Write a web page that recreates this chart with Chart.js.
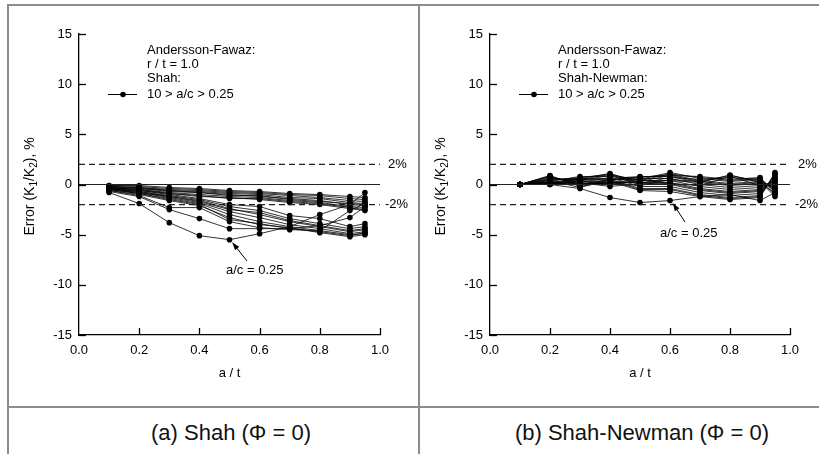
<!DOCTYPE html>
<html>
<head>
<meta charset="utf-8">
<script src="https://cdn.jsdelivr.net/npm/chart.js@4.4.0/dist/chart.umd.min.js"></script>
<style>
  html, body { margin: 0; padding: 0; background: #fff; }
  body { width: 819px; height: 454px; position: relative; overflow: hidden; font-family: "Liberation Sans", Arial, sans-serif; }
  .rule { position: absolute; background: #8c8c8c; }
  canvas { position: absolute; }
  .caption { position: absolute; top: 418px; width: 400px; font-size: 22px; line-height: 30px; color: #111; text-align: center; }
</style>
</head>
<body>
<div class="rule" style="left:8px; top:4px; width:811px; height:2px;"></div>
<div class="rule" style="left:7px; top:4px; width:2px; height:450px;"></div>
<div class="rule" style="left:418px; top:4px; width:2px; height:450px;"></div>
<div class="rule" style="left:8px; top:406px; width:811px; height:2px;"></div>

<canvas id="shahChart" width="405" height="398" style="left:10px; top:7px;"></canvas>
<canvas id="newmanChart" width="398" height="398" style="left:421px; top:7px;"></canvas>

<div class="caption" style="left:31px;">(a) Shah (Φ = 0)</div>
<div class="caption" style="left:442px;">(b) Shah-Newman (Φ = 0)</div>

<script>
// a/t positions where K was evaluated
const crackDepths = [0.1, 0.2, 0.3, 0.4, 0.5, 0.6, 0.7, 0.8, 0.9, 0.95];

// one curve per a/c ratio
const acRatios = [0.25, 0.4, 0.5, 0.6, 0.7, 0.75, 1, 1.25, 1.5, 1.75, 2, 2.5, 3, 3.5, 4, 5, 6, 7, 8, 10];

// Error (K1/K2) %, Shah vs Andersson-Fawaz
const shahErrors = [
  [-0.8, -1.9, -3.8, -5.1, -5.5, -4.9, -4.2, -3.0, -2.0, -0.8],
  [-0.7, -1.2, -2.5, -3.4, -4.4, -4.4, -4.4, -4.1, -3.3, -2.2],
  [-0.6, -1.1, -2.3, -2.3, -3.7, -4.3, -4.5, -4.6, -2.6, -1.9],
  [-0.6, -1.0, -1.6, -2.1, -3.3, -4.0, -4.3, -4.8, -5.2, -5.0],
  [-0.5, -0.9, -1.5, -2.0, -3.5, -3.9, -4.4, -4.7, -5.1, -4.8],
  [-0.5, -0.9, -1.4, -1.9, -3.0, -3.7, -4.2, -4.6, -5.0, -4.9],
  [-0.5, -0.8, -1.3, -1.8, -2.7, -3.3, -4.0, -4.4, -4.9, -4.7],
  [-0.4, -0.8, -1.2, -1.6, -2.4, -3.0, -3.7, -4.2, -4.7, -4.5],
  [-0.4, -0.7, -1.2, -1.7, -2.5, -2.8, -3.6, -4.1, -4.6, -4.4],
  [-0.4, -0.7, -1.1, -1.5, -2.2, -2.6, -3.4, -3.9, -4.4, -4.2],
  [-0.4, -0.6, -1.0, -1.4, -2.0, -2.2, -3.1, -3.4, -4.2, -3.9],
  [-0.3, -0.6, -0.9, -1.2, -1.3, -1.5, -1.8, -2.0, -2.4, -2.6],
  [-0.3, -0.5, -0.9, -1.1, -1.4, -1.4, -1.7, -1.9, -2.3, -2.5],
  [-0.3, -0.5, -0.8, -1.0, -1.2, -1.3, -1.6, -1.8, -2.2, -2.3],
  [-0.3, -0.4, -0.7, -0.8, -1.0, -1.2, -1.4, -1.6, -2.0, -2.1],
  [-0.2, -0.4, -0.6, -0.8, -1.1, -1.1, -1.5, -1.7, -1.9, -2.0],
  [-0.2, -0.3, -0.6, -0.7, -0.9, -1.0, -1.3, -1.4, -1.8, -1.9],
  [-0.2, -0.3, -0.5, -0.6, -0.8, -0.9, -1.1, -1.3, -1.6, -1.7],
  [-0.1, -0.2, -0.4, -0.5, -0.7, -0.8, -1.0, -1.1, -1.4, -1.5],
  [-0.1, -0.1, -0.3, -0.4, -0.6, -0.7, -0.9, -1.0, -1.2, -1.3]
];

// Error (K1/K2) %, Shah-Newman vs Andersson-Fawaz
const newmanErrors = [
  [0, 0.0, -0.4, -1.3, -1.8, -1.6, -1.2, -1.0, -1.6, -0.8],
  [0, 0.9, -0.2, 0.3, -0.6, -0.7, -1.2, -1.5, -1.3, 1.2],
  [0, 0.85, -0.1, 0.4, -0.5, -0.5, -1.1, -1.4, -1.2, 1.1],
  [0, 0.8, 0.0, 0.5, -0.4, -0.4, -1.0, -1.3, -1.1, 1.0],
  [0, 0.7, 0.2, 0.7, -0.2, -0.2, -0.8, -1.1, -0.9, 0.8],
  [0, 0.6, 0.4, 0.9, 0.0, 0.0, -0.6, -0.9, -0.7, 0.6],
  [0, 0.55, 0.5, 1.0, 0.1, 0.1, -0.5, -0.8, -0.6, 0.5],
  [0, 0.5, 0.6, 1.1, 0.2, 0.2, -0.4, -0.7, -0.5, 0.4],
  [0, 0.4, 0.7, 1.0, 0.4, 0.4, -0.2, -0.5, -0.3, 0.2],
  [0, 0.3, 0.8, 0.8, 0.6, 0.6, 0.0, -0.3, -0.1, 0.0],
  [0, 0.2, 0.6, 0.6, 0.8, 0.8, 0.2, -0.1, 0.1, -0.2],
  [0, 0.15, 0.55, 0.5, 0.75, 0.9, 0.3, 0.0, 0.2, -0.3],
  [0, 0.1, 0.5, 0.4, 0.7, 1.0, 0.4, 0.1, 0.3, -0.4],
  [0, 0.0, 0.4, 0.2, 0.5, 1.2, 0.6, 0.3, 0.5, -0.6],
  [0, 0.05, 0.35, 0.1, 0.4, 1.05, 0.7, 0.4, 0.6, -0.7],
  [0, 0.0, 0.3, 0.0, 0.3, 0.9, 0.8, 0.5, 0.7, -0.8],
  [0, 0.1, 0.2, -0.2, 0.1, 0.7, 0.5, 0.7, 0.5, -1.0],
  [0, 0.2, 0.1, 0.1, -0.1, 0.5, 0.3, 0.9, 0.3, -1.2],
  [0, 0.25, 0.0, 0.2, 0.2, 0.4, 0.2, 0.95, 0.2, -0.9],
  [0, 0.4, -0.3, 0.5, 0.5, 0.1, -0.1, 0.8, -0.1, 0.3]
];

// axis ticks and reference bands
const xTickValues = [0, 0.2, 0.4, 0.6, 0.8, 1.0];
const yTickValues = [-15, -10, -5, 0, 5, 10, 15];
const bandLimits = [2, -2];

const FONT = '"Liberation Sans", Arial, sans-serif';

// Draw a/c=0.25 annotation, legend, inward ticks, labels
function decorations(opts) {
  return {
    id: 'decorations',
    afterDraw(chart) {
      const ctx = chart.ctx;
      const xs = chart.scales.x;
      const ys = chart.scales.y;
      const area = chart.chartArea;
      ctx.save();
      ctx.strokeStyle = '#000';
      ctx.fillStyle = '#000';
      ctx.lineWidth = 1.3;

      // inward ticks
      yTickValues.forEach(v => {
        const py = Math.round(ys.getPixelForValue(v)) + 0.5;
        ctx.beginPath();
        ctx.moveTo(area.left, py);
        ctx.lineTo(area.left + 7, py);
        ctx.stroke();
      });
      xTickValues.slice(1).forEach(v => {
        const px = Math.round(xs.getPixelForValue(v)) + 0.5;
        ctx.beginPath();
        ctx.moveTo(px, area.bottom);
        ctx.lineTo(px, area.bottom - 7);
        ctx.stroke();
      });

      // band labels
      ctx.font = '13px ' + FONT;
      ctx.textBaseline = 'middle';
      ctx.textAlign = 'left';
      ctx.fillText('2%', area.right + 8, ys.getPixelForValue(bandLimits[0]));
      ctx.fillText('-2%', area.right + 5, ys.getPixelForValue(bandLimits[1]));

      // legend block
      const lx = 137;
      ctx.fillText('Andersson-Fawaz:', lx, 43);
      ctx.fillText('r / t = 1.0', lx, 57);
      ctx.fillText(opts.method + ':', lx, 71);
      ctx.fillText('10 > a/c > 0.25', lx, 87);
      ctx.lineWidth = 1;
      ctx.beginPath();
      ctx.moveTo(98, 87.5);
      ctx.lineTo(127, 87.5);
      ctx.stroke();
      ctx.beginPath();
      ctx.arc(113, 87.5, 2.8, 0, Math.PI * 2);
      ctx.fill();

      // a/c = 0.25 annotation with arrow
      const tipX = xs.getPixelForValue(opts.arrowAt[0]) + 3;
      const tipY = ys.getPixelForValue(opts.arrowAt[1]) + 3;
      const tailX = opts.labelPos[0] + opts.tail[0];
      const tailY = opts.labelPos[1] + opts.tail[1];
      ctx.beginPath();
      ctx.moveTo(tailX, tailY);
      ctx.lineTo(tipX, tipY);
      ctx.stroke();
      const ang = Math.atan2(tipY - tailY, tipX - tailX);
      ctx.beginPath();
      ctx.moveTo(tipX, tipY);
      ctx.lineTo(tipX - 8 * Math.cos(ang - 0.35), tipY - 8 * Math.sin(ang - 0.35));
      ctx.lineTo(tipX - 8 * Math.cos(ang + 0.35), tipY - 8 * Math.sin(ang + 0.35));
      ctx.closePath();
      ctx.fill();
      ctx.fillText('a/c = 0.25', opts.labelPos[0], opts.labelPos[1]);

      // x title
      ctx.textAlign = 'center';
      ctx.fillText('a / t', (area.left + area.right) / 2, 366);

      // y title with subscripts
      const parts = [
        ['Error (K', 14, 0], ['1', 10, 4], ['/K', 14, 0], ['2', 10, 4], ['), %', 14, 0]
      ];
      let total = 0;
      parts.forEach(p => { ctx.font = p[1] + 'px ' + FONT; total += ctx.measureText(p[0]).width; });
      ctx.translate(20, (area.top + area.bottom) / 2 + 2);
      ctx.rotate(-Math.PI / 2);
      ctx.textAlign = 'left';
      let cx = -total / 2;
      parts.forEach(p => {
        ctx.font = p[1] + 'px ' + FONT;
        ctx.fillText(p[0], cx, p[2]);
        cx += ctx.measureText(p[0]).width;
      });
      ctx.restore();
    }
  };
}

function buildDatasets(errors) {
  const sets = [];
  bandLimits.forEach(b => {
    sets.push({
      data: [{ x: 0, y: b }, { x: 1, y: b }],
      borderColor: '#222', borderWidth: 1.3, borderDash: [6, 4],
      pointRadius: 0, showLine: true
    });
  });
  sets.push({
    data: [{ x: 0, y: 0 }, { x: 1, y: 0 }],
    borderColor: '#222', borderWidth: 1.2, pointRadius: 0, showLine: true
  });
  errors.forEach((row, i) => {
    sets.push({
      label: 'a/c = ' + acRatios[i],
      data: crackDepths.map((x, j) => ({ x: x, y: row[j] })),
      borderColor: '#000', borderWidth: 0.8,
      pointRadius: 2.8, pointBackgroundColor: '#000', pointBorderWidth: 0,
      showLine: true
    });
  });
  return sets;
}

function makePanel(canvasId, errors, opts) {
  const canvas = document.getElementById(canvasId);
  const W = canvas.width;
  const H = canvas.height;
  const tickFont = { size: 13, family: FONT };
  return new Chart(canvas.getContext('2d'), {
    type: 'scatter',
    data: { datasets: buildDatasets(errors) },
    options: {
      responsive: false,
      animation: false,
      devicePixelRatio: 1,
      layout: { padding: { top: 27, right: W - opts.right, left: 0, bottom: 0 } },
      plugins: { legend: { display: false }, tooltip: { enabled: false } },
      scales: {
        x: {
          type: 'linear', min: 0, max: 1,
          afterFit: s => { s.height = H - 328; },
          afterBuildTicks: s => { s.ticks = xTickValues.map(v => ({ value: v })); },
          ticks: { callback: v => v.toFixed(1), color: '#000', font: tickFont, padding: 8, maxRotation: 0 },
          grid: { display: false, drawTicks: false },
          border: { display: true, color: '#000', width: 1.3 }
        },
        y: {
          type: 'linear', min: -15, max: 15,
          afterFit: s => { s.width = 69; },
          afterBuildTicks: s => { s.ticks = yTickValues.map(v => ({ value: v })); },
          ticks: { color: '#000', font: tickFont, padding: 7 },
          grid: { display: false, drawTicks: false },
          border: { display: true, color: '#000', width: 1.3 }
        }
      }
    },
    plugins: [decorations(opts)]
  });
}

makePanel('shahChart', shahErrors, {
  method: 'Shah', right: 370,
  arrowAt: [0.5, -5.5], labelPos: [216, 263], tail: [21, -9]
});
makePanel('newmanChart', newmanErrors, {
  method: 'Shah-Newman', right: 369,
  arrowAt: [0.6, -1.6], labelPos: [239, 226], tail: [25, -11]
});
</script>
</body>
</html>
